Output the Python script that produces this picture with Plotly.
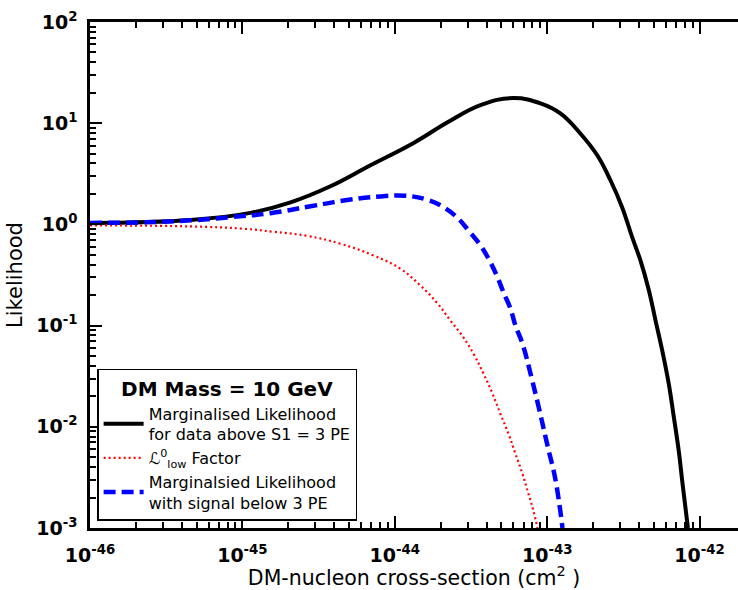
import plotly.graph_objects as go

# ---------------- data ----------------
# Marginalised likelihood for data above S1 = 3 PE (black solid)
xsec_black = [1.0e-46, 4.57e-46, 1.13e-45, 2.07e-45, 3.78e-45, 6.92e-45, 1.32e-44,
              2.22e-44, 3.65e-44, 6.01e-44, 9.04e-44, 1.22e-43, 1.65e-43, 2.13e-43,
              2.60e-43, 3.10e-43, 3.61e-43, 4.09e-43, 4.65e-43, 5.14e-43, 5.69e-43,
              6.28e-43, 6.78e-43, 7.30e-43, 7.69e-43, 8.08e-43, 8.38e-43]
like_black = [1.035, 1.108, 1.30, 1.65, 2.38, 3.84, 6.34,
              10.2, 15.1, 17.7, 15.7, 12.5, 7.91, 4.82,
              2.73, 1.48, 0.748, 0.44, 0.222, 0.112, 0.0565,
              0.0264, 0.01236, 0.00578, 0.00292, 0.00158, 0.001]

# L_low^0 factor (red dotted)
xsec_red = [1.0e-46, 4.57e-46, 1.016e-45, 1.60e-45, 2.67e-45, 4.40e-45, 7.25e-45,
            1.09e-44, 1.47e-44, 1.91e-44, 2.32e-44, 2.82e-44, 3.28e-44, 3.82e-44,
            4.38e-44, 4.93e-44, 5.57e-44, 6.19e-44, 6.88e-44, 7.54e-44, 8.13e-44, 8.63e-44]
like_red = [0.977, 0.955, 0.906, 0.845, 0.770, 0.644, 0.493,
            0.364, 0.249, 0.165, 0.112, 0.0766, 0.0528, 0.0335,
            0.0212, 0.01345, 0.00853, 0.00541, 0.00343, 0.00217, 0.00147, 0.001]

# Marginalised likelihood with signal below 3 PE (blue dashed)
xsec_blue = [1.0e-46, 2.14e-46, 4.57e-46, 8.36e-46, 1.53e-45, 2.80e-45, 5.12e-45,
             8.05e-45, 1.175e-44, 1.64e-44, 2.09e-44, 2.58e-44, 3.04e-44, 3.65e-44,
             4.18e-44, 4.72e-44, 5.16e-44, 5.74e-44, 6.19e-44, 6.88e-44, 7.89e-44,
             8.91e-44, 1.005e-43, 1.13e-43, 1.26e-43]
like_blue = [1.035, 1.047, 1.096, 1.18, 1.29, 1.51, 1.76,
             1.89, 1.92, 1.75, 1.48, 1.16, 0.873, 0.62,
             0.44, 0.30, 0.214, 0.147, 0.10, 0.0664, 0.0306,
             0.0144, 0.00649, 0.00306, 0.001]

x_exponents = [-46, -45, -44, -43, -42]
y_exponents = [-3, -2, -1, 0, 1, 2]

names = ["Marginalised Likelihood<br>for data above S1 = 3 PE",
         "\u2112<sup>0</sup><sub>low</sub> Factor",
         "Marginalsied Likelihood<br>with signal below 3 PE"]
legend_title = "DM Mass = 10 GeV"
x_title = "DM-nucleon cross-section (cm<sup>2</sup> )"
y_title = "Likelihood"

# ---------------- figure ----------------
FONT = "DejaVu Sans"
fig = go.Figure()
fig.add_trace(go.Scatter(x=xsec_black, y=like_black, mode="lines", name=names[0],
                         line=dict(color="black", width=4, shape="spline", smoothing=1.2)))
fig.add_trace(go.Scatter(x=xsec_red, y=like_red, mode="lines", name=names[1],
                         line=dict(color="#ff0000", width=2.2, dash="2px,3px", shape="spline", smoothing=1.2)))
fig.add_trace(go.Scatter(x=xsec_blue, y=like_blue, mode="lines", name=names[2],
                         line=dict(color="#0000ff", width=4.5, dash="12px,6px", shape="spline", smoothing=1.2)))

x_major = [10.0 ** e for e in x_exponents]
x_text = ["<b>10<sup>%d</sup></b>" % e for e in x_exponents]
x_minor = [m * 10.0 ** e for e in range(-46, -41) for m in range(2, 10)]
y_major = [10.0 ** e for e in y_exponents]
y_text = ["<b>10<sup>%d</sup></b>" % e for e in y_exponents]
y_minor = [m * 10.0 ** e for e in range(-3, 2) for m in range(2, 10)]

plot_left, plot_right = 90, 738
px_per_decade = 152.4
x_range = [-46, -46 + (plot_right - plot_left) / px_per_decade]

fig.update_layout(
    width=738, height=590,
    margin=dict(l=plot_left, r=738 - plot_right, t=22, b=62),
    paper_bgcolor="white", plot_bgcolor="white",
    font=dict(family=FONT, color="black"),
    showlegend=True,
    legend=dict(
        x=0.011, y=0.014, xanchor="left", yanchor="bottom",
        bgcolor="white", bordercolor="black", borderwidth=1.5,
        font=dict(family=FONT, size=16, color="black"),
        title=dict(text="<b>" + legend_title + "</b>", side="top center",
                   font=dict(family=FONT, size=20, color="black")),
        itemwidth=40,
    ),
    xaxis=dict(
        type="log", range=x_range, showgrid=False, zeroline=False,
        showline=True, linecolor="black", linewidth=2.5, mirror="ticks",
        tickmode="array", tickvals=x_major, ticktext=x_text,
        ticks="inside", ticklen=12, tickwidth=2, tickcolor="black",
        tickfont=dict(family=FONT, size=19, color="black"),
        ticklabelstandoff=8,
        minor=dict(tickmode="array", tickvals=x_minor, ticks="inside", ticklen=6,
                   tickwidth=1.5, tickcolor="black", showgrid=False),
        title=dict(text=x_title, font=dict(family=FONT, size=20.5, color="black"), standoff=8),
    ),
    yaxis=dict(
        type="log", range=[-3, 2], showgrid=False, zeroline=False,
        showline=True, linecolor="black", linewidth=2.5, mirror=False,
        tickmode="array", tickvals=y_major, ticktext=y_text,
        ticks="inside", ticklen=12, tickwidth=2, tickcolor="black",
        tickfont=dict(family=FONT, size=19, color="black"),
        ticklabelstandoff=6,
        minor=dict(tickmode="array", tickvals=y_minor, ticks="inside", ticklen=6,
                   tickwidth=1.5, tickcolor="black", showgrid=False),
        title=dict(text=y_title, font=dict(family=FONT, size=21, color="black"), standoff=8),
    ),
    yaxis2=dict(
        type="log", range=[-3, 2], overlaying="y", side="right", anchor="x",
        showgrid=False, zeroline=False, showline=False, showticklabels=False,
        tickmode="array", tickvals=y_major,
        ticks="inside", ticklen=5, tickwidth=2, tickcolor="black",
    ),
)

fig.write_html("out.html")
